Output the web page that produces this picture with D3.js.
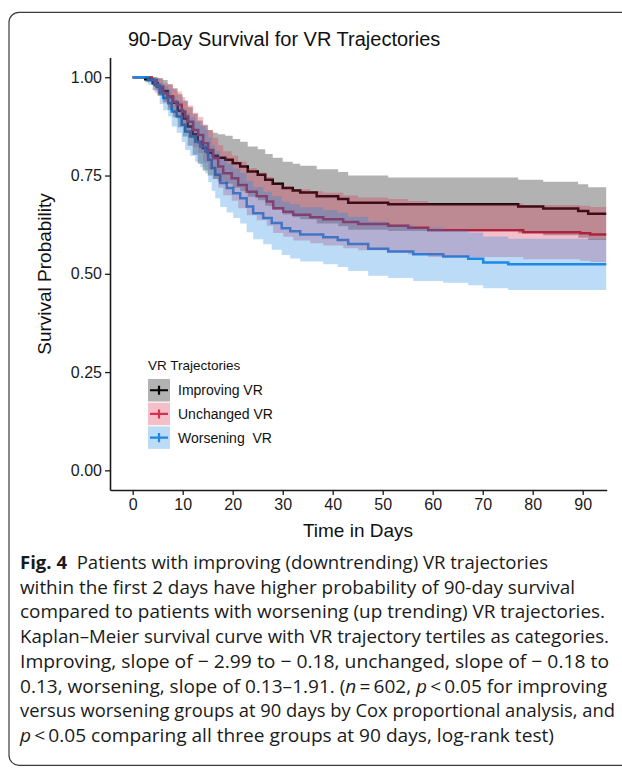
<!DOCTYPE html>
<html>
<head>
<meta charset="utf-8">
<script src="https://cdn.jsdelivr.net/npm/d3@7"></script>
<style>
  html, body { margin: 0; padding: 0; background: #fff; }
  svg { display: block; }
</style>
</head>
<body>
<svg id="chart" width="622" height="769"></svg>
<script>
//values (days / survival probability)
var groupNames  = ["Improving VR", "Unchanged VR", "Worsening  VR"];
var groupColors = ["#000000", "#D7304F", "#1E88E5"];

var improvingTime  = [0, 2.5, 4, 5, 6, 7, 8, 9, 10, 11, 12, 13, 14, 15, 16, 17, 18.5, 20, 21.5, 23, 25, 26.5, 28, 30, 32, 33.5, 36.8, 41.1, 43.1, 51.1, 77.1, 82.1, 89.1, 91.1];
var improvingSurv  = [1, .995, .985, .975, .965, .950, .935, .915, .895, .875, .855, .835, .820, .808, .800, .795, .790, .781, .773, .760, .752, .739, .729, .718, .712, .707, .697, .690, .681, .677, .671, .666, .660, .653];
var improvingUpper = [1, 1, 1, .998, .993, .983, .972, .957, .941, .924, .907, .890, .877, .866, .859, .855, .851, .843, .836, .824, .817, .805, .795, .785, .780, .775, .766, .759, .750, .745, .739, .734, .728, .720];
var improvingLower = [1, .987, .967, .952, .937, .917, .898, .873, .849, .826, .803, .780, .763, .750, .741, .735, .729, .719, .710, .696, .687, .673, .663, .651, .644, .639, .628, .621, .612, .609, .603, .598, .592, .586];

var unchangedTime  = [0, 3.8, 4.8, 6.1, 7.1, 8.1, 8.8, 9.8, 10.5, 11.1, 12.1, 13.1, 14.1, 15.1, 16.1, 17.1, 18.1, 19.8, 21.1, 22.8, 24.8, 26.8, 28.1, 30.1, 32.1, 35.5, 38.1, 42.1, 45.1, 51.1, 55.1, 59.1, 78.1, 89.5, 91.5];
var unchangedSurv  = [1, .993, .976, .959, .951, .938, .930, .913, .900, .887, .866, .853, .832, .815, .794, .773, .756, .743, .726, .709, .697, .684, .667, .658, .650, .644, .639, .632, .627, .622, .617, .611, .606, .603, .600];
var unchangedUpper = [1, 1, .996, .985, .980, .970, .964, .950, .939, .928, .910, .899, .880, .865, .846, .827, .812, .800, .785, .769, .758, .746, .730, .722, .715, .710, .706, .699, .694, .690, .685, .679, .675, .673, .670];
var unchangedLower = [1, .981, .956, .933, .922, .906, .896, .876, .861, .846, .822, .807, .784, .765, .742, .719, .700, .686, .667, .649, .636, .622, .604, .594, .585, .578, .572, .565, .560, .554, .549, .543, .537, .533, .530];

var worseningTime  = [0, 3, 4.4, 5.4, 6.1, 7.1, 7.8, 8.8, 9.8, 10.5, 11.5, 12.5, 13.5, 14.5, 15.1, 15.8, 16.5, 17.5, 18.8, 20.1, 21.5, 22.8, 24.1, 26.1, 27.8, 29.8, 31.5, 33.5, 38.1, 41, 43.1, 47.1, 51.1, 56.1, 62.1, 67.1, 70.1, 75.1];
var worseningSurv  = [1, .993, .980, .959, .947, .934, .913, .900, .879, .862, .849, .836, .824, .811, .790, .769, .752, .731, .718, .705, .692, .671, .654, .642, .629, .616, .608, .600, .593, .586, .576, .564, .557, .550, .544, .538, .529, .524];
var worseningUpper = [1, 1, .999, .986, .978, .968, .951, .941, .923, .909, .898, .887, .877, .866, .847, .827, .812, .792, .780, .768, .756, .736, .720, .709, .697, .684, .677, .669, .662, .655, .645, .633, .625, .618, .611, .605, .595, .589];
var worseningLower = [1, .981, .961, .932, .916, .900, .875, .859, .835, .815, .800, .785, .771, .756, .733, .711, .692, .670, .656, .642, .628, .606, .588, .575, .561, .548, .539, .531, .524, .517, .507, .495, .489, .482, .477, .471, .463, .459];

var lastTime = 94.7;
var xTicks = [0, 10, 20, 30, 40, 50, 60, 70, 80, 90];
var yTicks = [0, 0.25, 0.5, 0.75, 1];

var captionLines = [
  [["Fig. 4", "b"], ["  Patients with improving (downtrending) VR trajectories", ""]],
  [["within the first 2 days have higher probability of 90-day survival", ""]],
  [["compared to patients with worsening (up trending) VR trajectories.", ""]],
  [["Kaplan\u2013Meier survival curve with VR trajectory tertiles as categories.", ""]],
  [["Improving, slope of \u2212 2.99 to \u2212 0.18, unchanged, slope of \u2212 0.18 to", ""]],
  [["0.13, worsening, slope of 0.13\u20131.91. (", ""], ["n", "i"], ["\u2009=\u2009602, ", ""], ["p", "i"], ["\u2009<\u20090.05 for improving", ""]],
  [["versus worsening groups at 90 days by Cox proportional analysis, and", ""]],
  [["p", "i"], ["\u2009<\u20090.05 comparing all three groups at 90 days, log-rank test)", ""]]
];
//right edge of each caption line in the figure
var captionRight = [548, 575, 605, 609, 609, 607, 615, 554];

//build series
function makeSeries(name, color, t, s, up, lo) {
  var pts = t.map(function(d, i) { return {t: d, s: s[i], up: up[i], lo: lo[i]}; });
  var last = pts[pts.length - 1];
  pts.push({t: lastTime, s: last.s, up: last.up, lo: last.lo});
  return {name: name, color: color, points: pts};
}

var series = [
  makeSeries(groupNames[0], groupColors[0], improvingTime, improvingSurv, improvingUpper, improvingLower),
  makeSeries(groupNames[1], groupColors[1], unchangedTime, unchangedSurv, unchangedUpper, unchangedLower),
  makeSeries(groupNames[2], groupColors[2], worseningTime, worseningSurv, worseningUpper, worseningLower)
];

var svg = d3.select("#chart")
  , font = '"Liberation Sans", Arial, Helvetica, sans-serif'
  , capFont = '"Open Sans", "Noto Sans", sans-serif';

var x = d3.scaleLinear().domain([-4.54, 94.8]).range([110, 606.7]);
var y = d3.scaleLinear().domain([-0.05, 1.05]).range([490, 57.6]);

//outer rounded frame
svg.append("rect")
  .attr("x", 9).attr("y", 12.3)
  .attr("width", 720).attr("height", 753)
  .attr("rx", 10).attr("ry", 10)
  .attr("fill", "none")
  .attr("stroke", "#3a3a3a")
  .attr("stroke-width", 1.2);

//title
svg.append("text")
  .attr("x", 128).attr("y", 46)
  .style("font-family", font).style("font-size", "20px")
  .attr("fill", "#111")
  .text("90-Day Survival for VR Trajectories");

var plot = svg.append("g");

var line = d3.line()
  .curve(d3.curveStepAfter)
  .x(function(d) { return x(d.t); })
  .y(function(d) { return y(d.s); });

var band = d3.area()
  .curve(d3.curveStepAfter)
  .x(function(d) { return x(d.t); })
  .y0(function(d) { return y(d.lo); })
  .y1(function(d) { return y(d.up); });

//curves first, confidence bands on top (as in the figure)
plot.selectAll("path.km")
  .data(series)
  .enter().append("path")
    .attr("class", "km")
    .attr("d", function(d) { return line(d.points); })
    .attr("fill", "none")
    .attr("stroke", function(d) { return d.color; })
    .attr("stroke-width", 2.5);

plot.selectAll("path.ci")
  .data(series)
  .enter().append("path")
    .attr("class", "ci")
    .attr("d", function(d) { return band(d.points); })
    .attr("fill", function(d) { return d.color; })
    .attr("fill-opacity", 0.3)
    .attr("stroke", "none");

//axes
var xAxis = svg.append("g")
  .attr("transform", "translate(0,490)")
  .call(d3.axisBottom(x).tickValues(xTicks).tickSize(5).tickSizeOuter(0).tickPadding(4));

var yAxis = svg.append("g")
  .attr("transform", "translate(110,0)")
  .call(d3.axisLeft(y).tickValues(yTicks).tickFormat(d3.format(".2f")).tickSize(5).tickSizeOuter(0).tickPadding(3));

[xAxis, yAxis].forEach(function(g) {
  g.select(".domain").attr("stroke", "#1a1a1a").attr("stroke-width", 1.6);
  g.selectAll(".tick line").attr("stroke", "#1a1a1a").attr("stroke-width", 1.3);
  g.selectAll(".tick text")
    .attr("fill", "#1a1a1a")
    .style("font-family", font)
    .style("font-size", "16px");
});

svg.append("text")
  .attr("x", 358).attr("y", 537)
  .attr("text-anchor", "middle")
  .style("font-family", font).style("font-size", "19px")
  .attr("fill", "#111")
  .text("Time in Days");

svg.append("text")
  .attr("transform", "translate(51,274) rotate(-90)")
  .attr("text-anchor", "middle")
  .style("font-family", font).style("font-size", "19px")
  .attr("fill", "#111")
  .text("Survival Probability");

//legend
var legend = svg.append("g").attr("transform", "translate(148,365)");

legend.append("text")
  .attr("x", 0).attr("y", 5)
  .style("font-family", font).style("font-size", "13.5px")
  .attr("fill", "#111")
  .text("VR Trajectories");

var keys = legend.selectAll("g.key")
  .data(series)
  .enter().append("g")
    .attr("class", "key")
    .attr("transform", function(d, i) { return "translate(0," + (14 + i * 23.7) + ")"; });

keys.append("rect")
  .attr("width", 22).attr("height", 22.5)
  .attr("fill", function(d) { return d.color; })
  .attr("fill-opacity", 0.3);

keys.append("path")
  .attr("d", "M2,11.25H20M11,6.7V15.8")
  .attr("stroke", function(d) { return d.color; })
  .attr("stroke-width", 2.2)
  .attr("fill", "none");

keys.append("text")
  .attr("x", 30).attr("y", 16.3)
  .style("font-family", font).style("font-size", "14px")
  .style("white-space", "pre")
  .attr("fill", "#111")
  .text(function(d) { return d.name; });

//caption
var caption = svg.append("g");
captionLines.forEach(function(parts, i) {
  var t = caption.append("text")
    .attr("x", 20)
    .attr("y", 569 + i * 24.7)
    .attr("textLength", captionRight[i] - 20)
    .attr("lengthAdjust", "spacingAndGlyphs")
    .style("font-family", capFont)
    .style("font-size", "18.5px")
    .style("white-space", "pre")
    .attr("fill", "#1a1a1a");
  parts.forEach(function(p) {
    t.append("tspan")
      .style("font-weight", p[1] === "b" ? "700" : "400")
      .style("font-style", p[1] === "i" ? "italic" : "normal")
      .text(p[0]);
  });
});
</script>
</body>
</html>
